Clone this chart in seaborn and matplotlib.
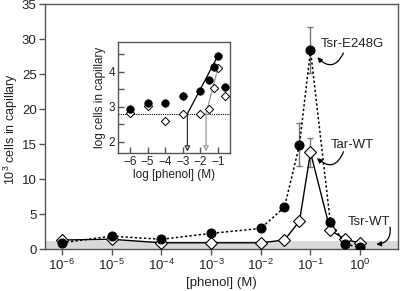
import matplotlib
matplotlib.use('Agg')
import matplotlib.pyplot as plt
from matplotlib.ticker import NullLocator, MultipleLocator
import seaborn as sns

# main panel data (10^3 cells in capillary)
conc = [1e-6, 1e-5, 1e-4, 1e-3, 1e-2, 0.03, 0.06, 0.1, 0.25, 0.5, 1.0]
tsr_e248g = [0.9, 1.85, 1.4, 2.25, 2.95, 6.0, 14.9, 28.4, 3.9, 0.7, 0.25]
tar_wt = [1.3, 1.4, 0.9, 0.9, 0.9, 1.3, 4.0, 13.8, 2.7, 1.4, 0.85]

# error bars
tsr_err_x = [0.06, 0.1]
tsr_err_y = [14.9, 28.4]
tsr_err = [3.1, 3.3]
tar_err_x = [0.1]
tar_err_y = [13.8]
tar_err = [2.1]

background = 1.2  # Tsr-WT level (grey band)

xticks = [1e-6, 1e-5, 1e-4, 1e-3, 1e-2, 1e-1, 1e0]
xticklabels = ['10$^{-6}$', '10$^{-5}$', '10$^{-4}$', '10$^{-3}$',
               '10$^{-2}$', '10$^{-1}$', '10$^{0}$']

# inset data (log cells in capillary vs log [phenol])
inset_x = [-6, -5, -4, -3, -2, -1.5, -1.22, -1, -0.6]
inset_tsr = [2.93, 3.12, 3.10, 3.31, 3.45, 3.76, 4.14, 4.46, 3.57]
inset_tar = [2.83, 3.02, 2.60, 2.79, 2.79, 2.93, 3.53, 4.11, 3.31]
threshold = 2.8
# threshold crossings of the fitted lines (Tsr-E248G, Tar-WT)
cross_x = [-2.74, -1.68]
fit_end_x = -1

sns.set_style('ticks')
plt.rcParams['font.family'] = ['Liberation Sans', 'DejaVu Sans']
plt.rcParams['mathtext.fontset'] = 'custom'
plt.rcParams['mathtext.rm'] = 'Liberation Sans'
plt.rcParams['mathtext.it'] = 'Liberation Sans'

spine_col = '#555555'
txt_col = '#222222'

fig = plt.figure(figsize=(4, 2.91), dpi=100)
ax = fig.add_axes([0.1125, 0.144, 0.8825, 0.842])
ax.set_xscale('log')

ax.axhspan(0, background, color='#d9d9d9', lw=0, zorder=0)

# error bars
ax.errorbar(tsr_err_x, tsr_err_y, yerr=tsr_err, fmt='none', ecolor='#777777',
            elinewidth=1, capsize=2.5, capthick=1, zorder=2)
ax.errorbar(tar_err_x, tar_err_y, yerr=tar_err, fmt='none', ecolor='#777777',
            elinewidth=1, capsize=2.5, capthick=1, zorder=2)

# Tar-WT: open diamonds, solid line
sns.lineplot(x=conc, y=tar_wt, ax=ax, color='k', lw=1, marker='D',
             markersize=6, markerfacecolor='white', markeredgecolor='k',
             markeredgewidth=0.8, zorder=3)
# Tsr-E248G: filled circles, dotted line
sns.lineplot(x=conc, y=tsr_e248g, ax=ax, color='k', lw=1.1,
             linestyle=(0, (1.5, 1.5)), marker='o', markersize=6.5,
             markerfacecolor='k', markeredgecolor='k', zorder=4)

ax.set_xlim(10 ** -6.34, 10 ** 0.76)
ax.set_ylim(0, 35)
ax.set_xticks(xticks)
ax.set_xticklabels(xticklabels)
ax.xaxis.set_minor_locator(NullLocator())
ax.set_yticks(range(0, 36, 5))
ax.tick_params(axis='both', direction='out', length=4, width=1,
               color=spine_col, labelsize=9.5, labelcolor=txt_col, pad=2)
for s in ax.spines.values():
    s.set_color(spine_col)
    s.set_linewidth(1)
ax.set_xlabel('[phenol] (M)', fontsize=9.5, color=txt_col, labelpad=3)
ax.set_ylabel('10$^3$ cells in capillary', fontsize=9, color=txt_col)
ax.yaxis.set_label_coords(-0.07, 0.49)

# labels with curved arrows
arrow = dict(arrowstyle='-|>', color='k', lw=0.9, mutation_scale=7,
             shrinkA=0, shrinkB=0)
ax.text(0.16, 29.3, 'Tsr-E248G', fontsize=9.5, color=txt_col,
        ha='left', va='center')
ax.annotate('', xy=(0.137, 27.4), xytext=(0.46, 28.0),
            arrowprops=dict(arrow, connectionstyle='arc3,rad=-0.7'))
ax.text(0.25, 14.9, 'Tar-WT', fontsize=9.5, color=txt_col,
        ha='left', va='center')
ax.annotate('', xy=(0.135, 13.0), xytext=(0.46, 13.9),
            arrowprops=dict(arrow, connectionstyle='arc3,rad=-0.7'))
ax.text(0.57, 3.9, 'Tsr-WT', fontsize=9.5, color=txt_col,
        ha='left', va='center')
ax.annotate('', xy=(2.1, 0.67), xytext=(3.98, 3.14),
            arrowprops=dict(arrow, connectionstyle='arc3,rad=-0.5'))

# inset
ins = fig.add_axes([0.295, 0.474, 0.28, 0.382])
ins.axhline(threshold, color='k', lw=0.8, ls=(0, (1, 1)), zorder=1)
ins.plot([cross_x[0], fit_end_x], [threshold, inset_tsr[inset_x.index(fit_end_x)]],
         color='k', lw=0.9, zorder=2)
ins.plot([cross_x[1], fit_end_x], [threshold, inset_tar[inset_x.index(fit_end_x)]],
         color='#999999', lw=0.9, zorder=2)
ins.annotate('', xy=(cross_x[0], 1.72), xytext=(cross_x[0], threshold),
             arrowprops=dict(arrowstyle='-|>', lw=0.9, ec='#333333',
                             fc='white', mutation_scale=8, shrinkA=0, shrinkB=0))
ins.annotate('', xy=(cross_x[1], 1.72), xytext=(cross_x[1], threshold),
             arrowprops=dict(arrowstyle='-|>', lw=0.9, ec='#999999',
                             fc='white', mutation_scale=8, shrinkA=0, shrinkB=0))
sns.scatterplot(x=inset_x, y=inset_tar, ax=ins, marker='D', s=18,
                facecolor='white', edgecolor='k', linewidth=0.7, zorder=3)
sns.scatterplot(x=inset_x, y=inset_tsr, ax=ins, marker='o', s=30,
                color='k', edgecolor='k', zorder=4)
ins.set_xlim(-6.68, -0.32)
ins.set_ylim(1.68, 4.85)
ins.set_xticks([-6, -5, -4, -3, -2, -1])
ins.set_yticks([2, 3, 4])
ins.yaxis.set_minor_locator(MultipleLocator(0.5))
ins.tick_params(axis='both', which='both', direction='in', color=spine_col,
                labelsize=8.5, labelcolor=txt_col, pad=2)
ins.tick_params(which='major', length=4, width=1)
ins.tick_params(which='minor', length=4, width=1)
for s in ins.spines.values():
    s.set_color(spine_col)
    s.set_linewidth(1)
ins.set_xlabel('log [phenol] (M)', fontsize=8.5, color=txt_col, labelpad=1)
ins.set_ylabel('log cells in capillary', fontsize=8.5, color=txt_col,
               labelpad=2)

fig.savefig('out.png', dpi=100)
